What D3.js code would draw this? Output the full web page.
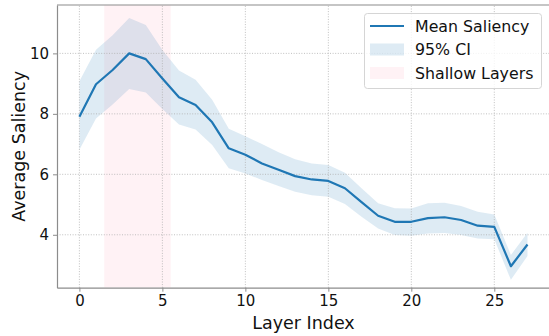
<!DOCTYPE html>
<html>
<head>
<meta charset="utf-8">
<script src="https://cdn.jsdelivr.net/npm/d3@7"></script>
<style>
  body { margin: 0; background: #fff; }
  svg { display: block; font-family: "DejaVu Sans", sans-serif; }
</style>
</head>
<body>
<svg id="chart"></svg>
<script>
// layer index 0..27
const layers = d3.range(0, 28);
const meanSaliency = [7.90, 8.98, 9.45, 10.0, 9.81, 9.17, 8.55, 8.29, 7.72, 6.86, 6.65, 6.36, 6.15, 5.94,
    5.83, 5.78, 5.54, 5.08, 4.63, 4.43, 4.43, 4.55, 4.58, 4.49, 4.30, 4.26, 2.96, 3.68];
const ciUpper = [9.08, 10.12, 10.6, 11.17, 10.94, 10.11, 9.43, 9.13, 8.47, 7.51, 7.26, 7.0, 6.73, 6.50,
    6.36, 6.31, 6.05, 5.54, 5.04, 4.88, 4.87, 5.04, 5.06, 4.95, 4.76, 4.67, 3.33, 4.07];
const ciLower = [6.81, 7.85, 8.31, 8.82, 8.71, 8.16, 7.65, 7.48, 6.97, 6.20, 6.03, 5.81, 5.61, 5.42,
    5.31, 5.26, 5.02, 4.60, 4.21, 3.99, 3.97, 4.04, 4.06, 3.99, 3.88, 3.85, 2.51, 3.30];
const shallowRange = [1.5, 5.5];
const xTicks = [0, 5, 10, 15, 20, 25];
const yTicks = [4, 6, 8, 10];
const legendLabels = ["Mean Saliency", "95% CI", "Shallow Layers"];

const width = 549, height = 336;
const blue = "#1f77b4";

const svg = d3.select("#chart")
    .attr("width", width)
    .attr("height", height);

const x = d3.scaleLinear().domain([-1.35, 28.35]).range([57, 549.9]);
const y = d3.scaleLinear().domain([2.25, 11.6]).range([287.7, 5]);

const points = layers.map((l, i) => ({ l, m: meanSaliency[i], lo: ciLower[i], hi: ciUpper[i] }));

svg.append("defs").append("clipPath").attr("id", "plot")
    .append("rect")
    .attr("x", x.range()[0]).attr("y", y.range()[1])
    .attr("width", x.range()[1] - x.range()[0])
    .attr("height", y.range()[0] - y.range()[1]);

const plot = svg.append("g").attr("clip-path", "url(#plot)");

// shallow layers band
plot.append("rect")
    .attr("x", x(shallowRange[0]))
    .attr("width", x(shallowRange[1]) - x(shallowRange[0]))
    .attr("y", y.range()[1])
    .attr("height", y.range()[0] - y.range()[1])
    .attr("fill", "#ffc0cb")
    .attr("fill-opacity", 0.2);

// confidence interval
plot.append("path")
    .datum(points)
    .attr("d", d3.area().x(d => x(d.l)).y0(d => y(d.lo)).y1(d => y(d.hi)))
    .attr("fill", blue)
    .attr("fill-opacity", 0.15);

// grid
const grid = plot.append("g")
    .attr("stroke", "#b0b0b0")
    .attr("stroke-width", 0.8)
    .attr("stroke-dasharray", "1,1.6");
grid.selectAll(".gx").data(xTicks).enter().append("line")
    .attr("x1", d => x(d)).attr("x2", d => x(d))
    .attr("y1", y.range()[0]).attr("y2", y.range()[1]);
grid.selectAll(".gy").data(yTicks).enter().append("line")
    .attr("y1", d => y(d)).attr("y2", d => y(d))
    .attr("x1", x.range()[0]).attr("x2", x.range()[1]);

// mean line
plot.append("path")
    .datum(points)
    .attr("d", d3.line().x(d => x(d.l)).y(d => y(d.m)))
    .attr("fill", "none")
    .attr("stroke", blue)
    .attr("stroke-width", 2.2)
    .attr("stroke-linejoin", "round");

// axes
const xAxis = svg.append("g")
    .attr("transform", `translate(0,${y.range()[0]})`)
    .call(d3.axisBottom(x).tickValues(xTicks).tickSizeInner(4).tickSizeOuter(0).tickPadding(4));
const yAxis = svg.append("g")
    .attr("transform", `translate(${x.range()[0]},0)`)
    .call(d3.axisLeft(y).tickValues(yTicks).tickSizeInner(4).tickSizeOuter(0).tickPadding(4));

[xAxis, yAxis].forEach(a => {
    a.selectAll(".domain").attr("stroke", "#8c8c8c").attr("stroke-width", 1.2);
    a.selectAll(".tick line").attr("stroke", "#8c8c8c");
    a.selectAll(".tick text")
        .attr("fill", "#111")
        .style("font-family", "DejaVu Sans, sans-serif")
        .style("font-size", "15px");
});

// top spine
svg.append("line")
    .attr("x1", x.range()[0]).attr("x2", x.range()[1])
    .attr("y1", y.range()[1]).attr("y2", y.range()[1])
    .attr("stroke", "#8c8c8c").attr("stroke-width", 1.2);

// axis labels
svg.append("text")
    .attr("x", (x.range()[0] + x.range()[1]) / 2)
    .attr("y", 329)
    .attr("text-anchor", "middle")
    .style("font-size", "17.5px")
    .attr("fill", "#111")
    .text("Layer Index");

svg.append("text")
    .attr("transform", `translate(24.5,${(y.range()[0] + y.range()[1]) / 2}) rotate(-90)`)
    .attr("text-anchor", "middle")
    .style("font-size", "17.5px")
    .attr("fill", "#111")
    .text("Average Saliency");

// legend
const legend = svg.append("g");
legend.append("rect")
    .attr("x", 364.5).attr("y", 13.5)
    .attr("width", 177).attr("height", 75)
    .attr("rx", 3)
    .attr("fill", "#fff").attr("fill-opacity", 0.8)
    .attr("stroke", "#d5d5d5");

const rowY = [26, 49.5, 73];
legend.append("line")
    .attr("x1", 370).attr("x2", 404)
    .attr("y1", rowY[0]).attr("y2", rowY[0])
    .attr("stroke", blue).attr("stroke-width", 2.2);
legend.append("rect")
    .attr("x", 370).attr("y", rowY[1] - 6).attr("width", 34).attr("height", 12)
    .attr("fill", blue).attr("fill-opacity", 0.15);
legend.append("rect")
    .attr("x", 370).attr("y", rowY[2] - 6).attr("width", 34).attr("height", 12)
    .attr("fill", "#ffc0cb").attr("fill-opacity", 0.2);

legend.selectAll(".lt").data(legendLabels).enter().append("text")
    .attr("x", 415)
    .attr("y", (d, i) => rowY[i])
    .attr("dy", "0.36em")
    .style("font-size", "15.8px")
    .attr("fill", "#111")
    .text(d => d);
</script>
</body>
</html>
